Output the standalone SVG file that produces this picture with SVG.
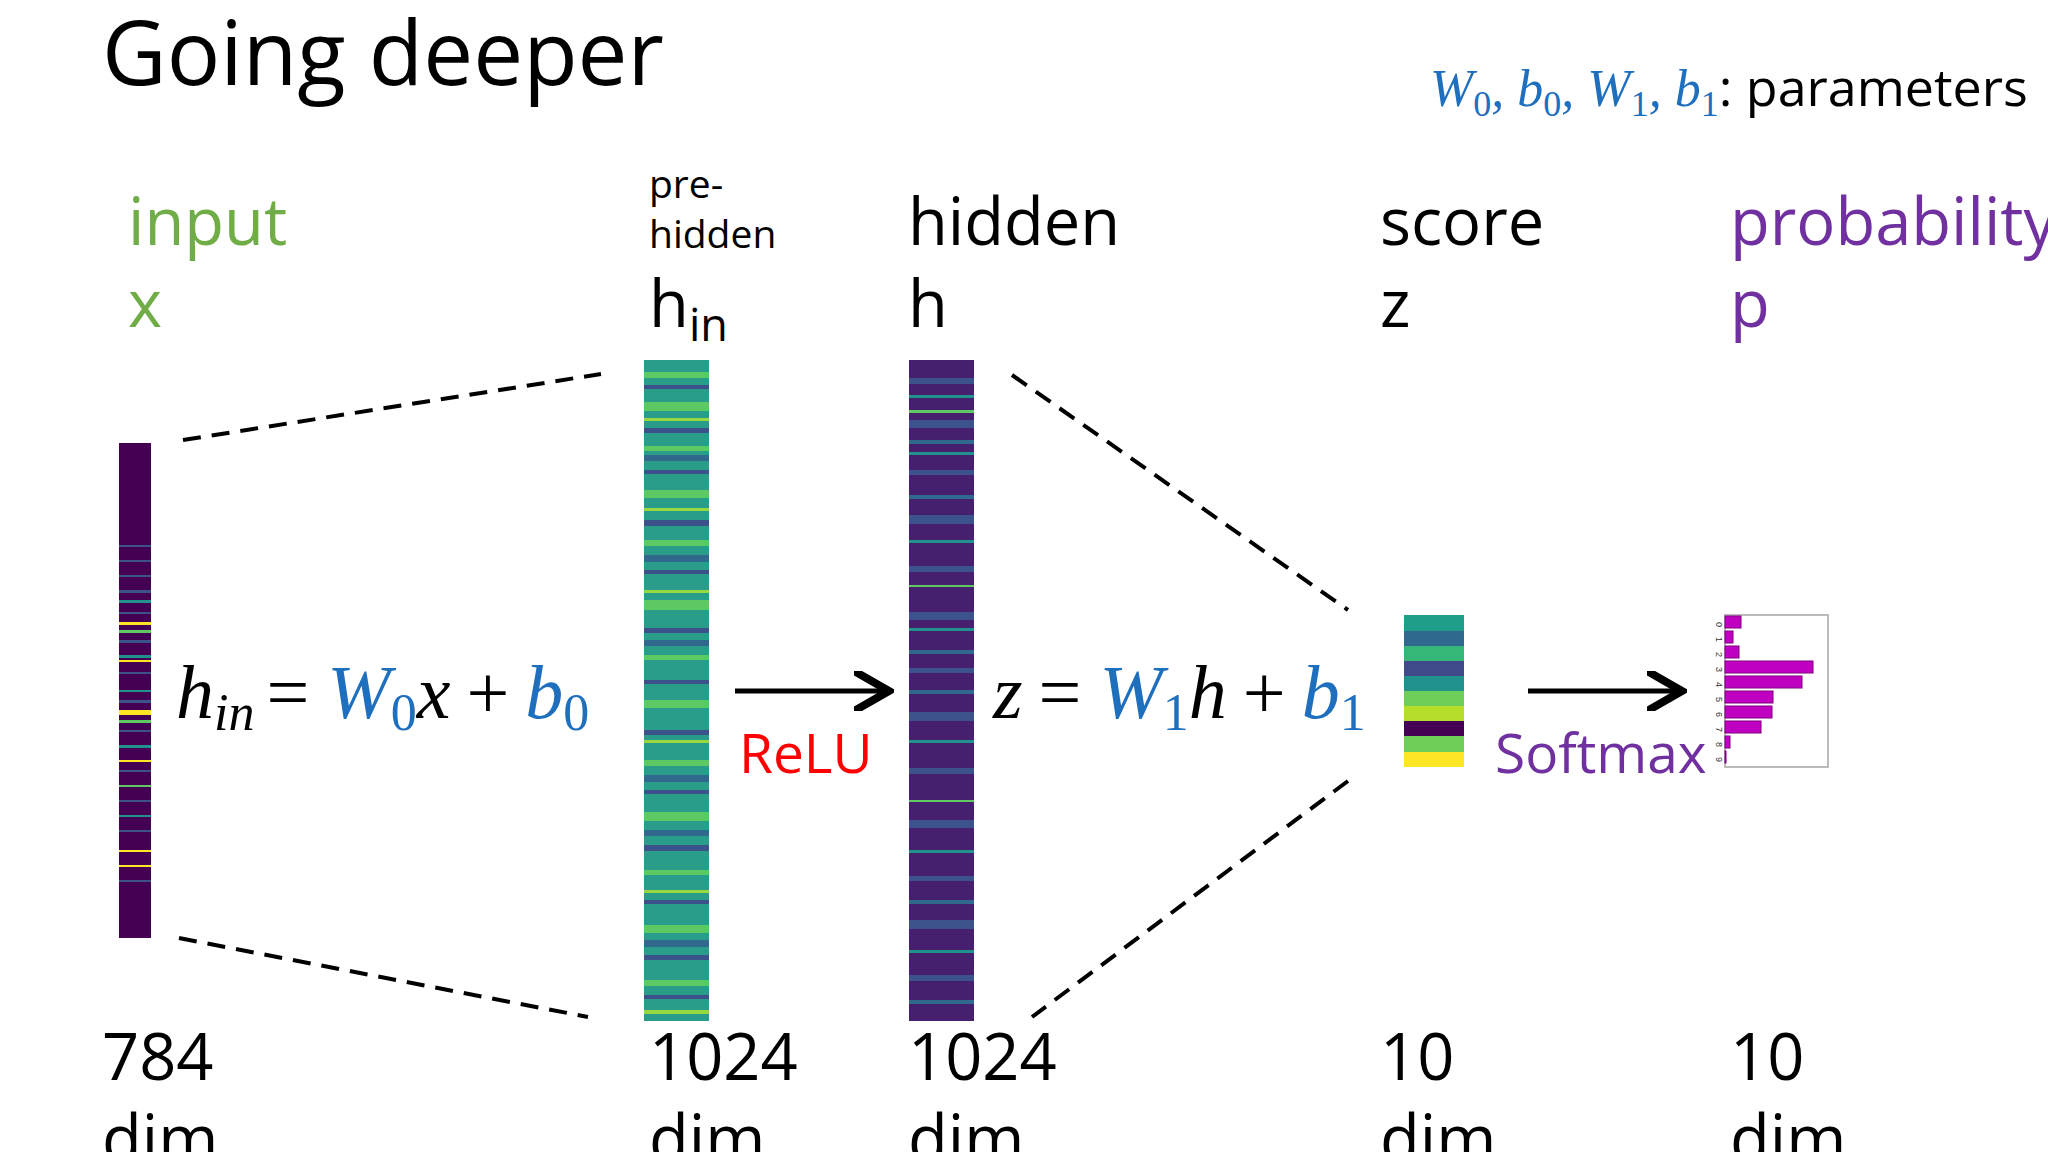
<svg xmlns="http://www.w3.org/2000/svg" width="2048" height="1152" viewBox="0 0 2048 1152">
<style>
.t{font-family:"Open Sans","Noto Sans",sans-serif;fill:#000}
.m{font-family:"Liberation Serif","DejaVu Serif",serif;font-style:italic}
.u{font-style:normal}
.b{fill:#1f6fbf}
.d{stroke:#000;stroke-width:4;stroke-dasharray:18,11;fill:none}
.a{stroke:#000;stroke-width:5;fill:none}
.bar{fill:#c000c0;stroke:#800080;stroke-width:1}
</style>
<defs><marker id="ar" markerWidth="8" markerHeight="8" refX="6" refY="4" orient="auto" markerUnits="strokeWidth"><path d="M0,0 L7,4 L0,8" fill="none" stroke="#000" stroke-width="1.6"/></marker></defs>
<rect width="2048" height="1152" fill="#fff"/>
<text class="t" x="102" y="85" font-size="89">Going deeper</text>
<text x="1430" y="106" font-size="52"><tspan class="m b">W</tspan><tspan class="m b u" font-size="36" dy="10">0</tspan><tspan class="m b" dy="-10">, b</tspan><tspan class="m b u" font-size="36" dy="10">0</tspan><tspan class="m b" dy="-10">, W</tspan><tspan class="m b u" font-size="36" dy="10">1</tspan><tspan class="m b" dy="-10">, b</tspan><tspan class="m b u" font-size="36" dy="10">1</tspan><tspan class="t" dy="-10">: parameters</tspan></text>
<g id="labels">
<text class="t" x="128" y="245" font-size="65" style="fill:#70ad47">input</text>
<text class="t" x="128" y="327" font-size="65" style="fill:#70ad47">x</text>
<text class="t" x="649" y="198" font-size="39">pre-</text>
<text class="t" x="649" y="248" font-size="39">hidden</text>
<text class="t" x="649" y="327" font-size="65">h<tspan font-size="45" dy="14">in</tspan></text>
<text class="t" x="908" y="245" font-size="65">hidden</text>
<text class="t" x="908" y="327" font-size="65">h</text>
<text class="t" x="1380" y="245" font-size="65">score</text>
<text class="t" x="1380" y="327" font-size="65">z</text>
<text class="t" x="1730" y="245" font-size="65" style="fill:#7030a0">probability</text>
<text class="t" x="1730" y="327" font-size="65" style="fill:#7030a0">p</text>
</g>
<g id="connectors">
<path class="d" d="M183,440 L601,374"/>
<path class="d" d="M179,938 L588,1017"/>
<path class="d" d="M1012,375 L1348,610"/>
<path class="d" d="M1348,781 L1032,1017"/>
<path class="a" d="M735,691 L884,691" marker-end="url(#ar)"/>
<path class="a" d="M1528,691 L1677,691" marker-end="url(#ar)"/>
</g>
<g id="x-vec">
<rect x="119" y="443" width="32" height="495" fill="#440154"/>
<g fill="#3b528b"><rect x="119" y="545" width="32" height="2"/><rect x="119" y="560" width="32" height="2"/><rect x="119" y="575" width="32" height="2"/><rect x="119" y="590" width="32" height="3"/><rect x="119" y="612" width="32" height="2"/><rect x="119" y="640" width="32" height="3"/><rect x="119" y="672" width="32" height="2"/><rect x="119" y="700" width="32" height="3"/><rect x="119" y="730" width="32" height="2"/><rect x="119" y="770" width="32" height="2"/><rect x="119" y="800" width="32" height="2"/><rect x="119" y="830" width="32" height="2"/><rect x="119" y="880" width="32" height="2"/></g>
<g fill="#21918c"><rect x="119" y="600" width="32" height="3"/><rect x="119" y="655" width="32" height="3"/><rect x="119" y="690" width="32" height="2"/><rect x="119" y="745" width="32" height="3"/><rect x="119" y="815" width="32" height="2"/></g>
<g fill="#fde725"><rect x="119" y="622" width="32" height="3"/><rect x="119" y="660" width="32" height="2"/><rect x="119" y="710" width="32" height="5"/><rect x="119" y="760" width="32" height="2"/><rect x="119" y="850" width="32" height="2"/><rect x="119" y="865" width="32" height="2"/></g>
<g fill="#5ec962"><rect x="119" y="630" width="32" height="3"/><rect x="119" y="720" width="32" height="3"/><rect x="119" y="785" width="32" height="2"/></g>
</g>
<g id="hin-vec">
<rect x="644" y="360" width="65" height="661" fill="#2a9d8a"/>
<g fill="#5ec962"><rect x="644" y="372" width="65" height="6"/><rect x="644" y="402" width="65" height="9"/><rect x="644" y="446" width="65" height="5"/><rect x="644" y="490" width="65" height="8"/><rect x="644" y="540" width="65" height="6"/><rect x="644" y="600" width="65" height="10"/><rect x="644" y="655" width="65" height="5"/><rect x="644" y="700" width="65" height="8"/><rect x="644" y="760" width="65" height="6"/><rect x="644" y="812" width="65" height="9"/><rect x="644" y="870" width="65" height="5"/><rect x="644" y="925" width="65" height="8"/><rect x="644" y="980" width="65" height="6"/></g>
<g fill="#3b528b"><rect x="644" y="385" width="65" height="4"/><rect x="644" y="428" width="65" height="5"/><rect x="644" y="470" width="65" height="4"/><rect x="644" y="520" width="65" height="6"/><rect x="644" y="570" width="65" height="4"/><rect x="644" y="628" width="65" height="5"/><rect x="644" y="680" width="65" height="4"/><rect x="644" y="730" width="65" height="5"/><rect x="644" y="790" width="65" height="4"/><rect x="644" y="845" width="65" height="6"/><rect x="644" y="900" width="65" height="4"/><rect x="644" y="955" width="65" height="5"/><rect x="644" y="995" width="65" height="4"/></g>
<g fill="#95d840"><rect x="644" y="418" width="65" height="3"/><rect x="644" y="508" width="65" height="3"/><rect x="644" y="590" width="65" height="3"/><rect x="644" y="740" width="65" height="3"/><rect x="644" y="890" width="65" height="3"/><rect x="644" y="1010" width="65" height="4"/></g>
<g fill="#31688e"><rect x="644" y="455" width="65" height="6"/><rect x="644" y="555" width="65" height="7"/><rect x="644" y="640" width="65" height="6"/><rect x="644" y="775" width="65" height="7"/><rect x="644" y="830" width="65" height="6"/><rect x="644" y="940" width="65" height="7"/></g>
</g>
<g id="h-vec">
<rect x="909" y="360" width="65" height="661" fill="#46206f"/>
<g fill="#3b528b"><rect x="909" y="378" width="65" height="6"/><rect x="909" y="420" width="65" height="8"/><rect x="909" y="470" width="65" height="5"/><rect x="909" y="515" width="65" height="9"/><rect x="909" y="566" width="65" height="6"/><rect x="909" y="612" width="65" height="8"/><rect x="909" y="668" width="65" height="5"/><rect x="909" y="712" width="65" height="9"/><rect x="909" y="768" width="65" height="6"/><rect x="909" y="820" width="65" height="8"/><rect x="909" y="876" width="65" height="5"/><rect x="909" y="920" width="65" height="9"/><rect x="909" y="975" width="65" height="6"/></g>
<g fill="#21918c"><rect x="909" y="395" width="65" height="3"/><rect x="909" y="452" width="65" height="3"/><rect x="909" y="540" width="65" height="3"/><rect x="909" y="628" width="65" height="3"/><rect x="909" y="740" width="65" height="3"/><rect x="909" y="850" width="65" height="3"/><rect x="909" y="950" width="65" height="3"/></g>
<g fill="#5ec962"><rect x="909" y="410" width="65" height="3"/><rect x="909" y="585" width="65" height="2"/><rect x="909" y="800" width="65" height="2"/></g>
<g fill="#31688e"><rect x="909" y="440" width="65" height="4"/><rect x="909" y="495" width="65" height="4"/><rect x="909" y="650" width="65" height="4"/><rect x="909" y="690" width="65" height="4"/><rect x="909" y="900" width="65" height="4"/><rect x="909" y="1000" width="65" height="4"/></g>
</g>
<g id="z-vec">
<rect x="1404" y="615" width="60" height="16" fill="#1f9e89"/>
<rect x="1404" y="631" width="60" height="15" fill="#31688e"/>
<rect x="1404" y="646" width="60" height="15" fill="#35b779"/>
<rect x="1404" y="661" width="60" height="15" fill="#3e4a89"/>
<rect x="1404" y="676" width="60" height="15" fill="#21918c"/>
<rect x="1404" y="691" width="60" height="15" fill="#6ece58"/>
<rect x="1404" y="706" width="60" height="15" fill="#b5de2b"/>
<rect x="1404" y="721" width="60" height="15" fill="#440154"/>
<rect x="1404" y="736" width="60" height="16" fill="#6ece58"/>
<rect x="1404" y="752" width="60" height="15" fill="#fde725"/>
</g>
<g id="eq1">
<text x="176" y="718" font-size="76" class="m"><tspan>h</tspan><tspan font-size="52" dy="12">in</tspan><tspan dy="-12" class="u" dx="12">=</tspan><tspan class="b" dx="18">W</tspan><tspan class="b u" font-size="52" dy="12">0</tspan><tspan dy="-12">x</tspan><tspan class="u" dx="16">+</tspan><tspan class="b" dx="16">b</tspan><tspan class="b u" font-size="52" dy="12">0</tspan></text>
<text class="t" x="739" y="773" font-size="55" style="fill:#ff0000">ReLU</text>
</g>
<g id="eq2">
<text x="993" y="718" font-size="76" class="m"><tspan>z</tspan><tspan class="u" dx="16">=</tspan><tspan class="b" dx="18">W</tspan><tspan class="b u" font-size="52" dy="12">1</tspan><tspan dy="-12">h</tspan><tspan class="u" dx="16">+</tspan><tspan class="b" dx="16">b</tspan><tspan class="b u" font-size="52" dy="12">1</tspan></text>
<text class="t" x="1495" y="773" font-size="55" style="fill:#7030a0">Softmax</text>
</g>
<g id="p-plot">
<rect x="1725" y="615" width="103" height="152" fill="#fff" stroke="#bbb" stroke-width="2"/>
<rect class="bar" x="1725" y="616" width="16" height="12"/>
<rect class="bar" x="1725" y="631" width="8" height="12"/>
<rect class="bar" x="1725" y="646" width="14" height="12"/>
<rect class="bar" x="1725" y="661" width="88" height="12"/>
<rect class="bar" x="1725" y="676" width="77" height="12"/>
<rect class="bar" x="1725" y="691" width="48" height="12"/>
<rect class="bar" x="1725" y="706" width="47" height="12"/>
<rect class="bar" x="1725" y="721" width="36" height="12"/>
<rect class="bar" x="1725" y="736" width="5" height="12"/>
<rect class="bar" x="1725" y="751" width="1" height="12"/>
<g font-family="Liberation Sans,sans-serif" font-size="9" fill="#333">
<text transform="translate(1716,622) rotate(90)">0</text><text transform="translate(1716,637) rotate(90)">1</text><text transform="translate(1716,652) rotate(90)">2</text><text transform="translate(1716,667) rotate(90)">3</text><text transform="translate(1716,682) rotate(90)">4</text><text transform="translate(1716,697) rotate(90)">5</text><text transform="translate(1716,712) rotate(90)">6</text><text transform="translate(1716,727) rotate(90)">7</text><text transform="translate(1716,742) rotate(90)">8</text><text transform="translate(1716,757) rotate(90)">9</text>
</g>
</g>
<g id="dims">
<text class="t" x="102" y="1080" font-size="65">784</text><text class="t" x="102" y="1162" font-size="65">dim</text>
<text class="t" x="649" y="1080" font-size="65">1024</text><text class="t" x="649" y="1162" font-size="65">dim</text>
<text class="t" x="908" y="1080" font-size="65">1024</text><text class="t" x="908" y="1162" font-size="65">dim</text>
<text class="t" x="1380" y="1080" font-size="65">10</text><text class="t" x="1380" y="1162" font-size="65">dim</text>
<text class="t" x="1730" y="1080" font-size="65">10</text><text class="t" x="1730" y="1162" font-size="65">dim</text>
</g>
</svg>
